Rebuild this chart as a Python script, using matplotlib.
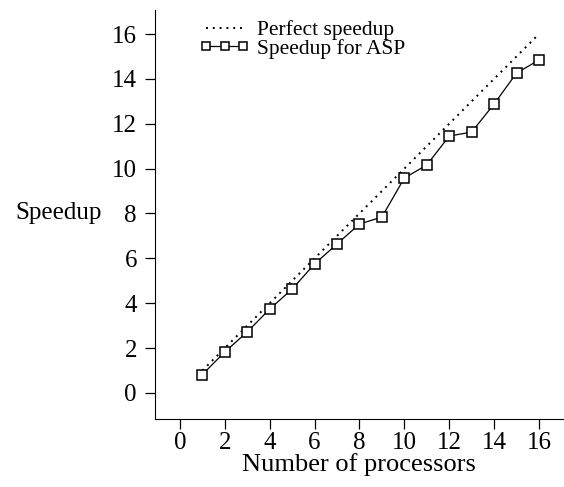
#speedup chart for ASP

#importing the libraries
import numpy as np
import matplotlib
matplotlib.use('Agg')
import matplotlib.pyplot as plt

#the data
processors = [1, 2, 3, 4, 5, 6, 7, 8, 9, 10, 11, 12, 13, 14, 15, 16]
perfect = [1, 2, 3, 4, 5, 6, 7, 8, 9, 10, 11, 12, 13, 14, 15, 16]
speedup_asp = [0.82, 1.83, 2.72, 3.74, 4.63, 5.75, 6.64, 7.53, 7.84, 9.58,
               10.16, 11.45, 11.63, 12.88, 14.26, 14.84]
ticks = [0, 2, 4, 6, 8, 10, 12, 14, 16]

plt.rcParams['font.family'] = ['Liberation Serif', 'DejaVu Serif']
plt.rcParams['font.size'] = 18

fig = plt.figure(figsize=(5.64, 4.87), dpi=100)
ax = fig.add_axes([155/564, (487-419)/487, (563-155)/564, (419-10)/487])

ax.plot(processors, perfect, color='black', linestyle=(0, (1, 2.5)), linewidth=1.4,
        label='Perfect speedup')
ax.plot(processors, speedup_asp, color='black', linewidth=0.9, marker='s',
        markersize=7, markerfacecolor='white', markeredgecolor='black',
        markeredgewidth=1.1, label='Speedup for ASP')

ax.set_xlim(-1.11, 17.07)
ax.set_ylim(-1.16, 17.07)
ax.set_xticks(ticks)
ax.set_yticks(ticks)
ax.spines['top'].set_visible(False)
ax.spines['right'].set_visible(False)
ax.tick_params(direction='out', length=7.5, width=0.9)
ax.tick_params(axis='x', pad=2)
ax.tick_params(axis='y', pad=5.5)
ax.set_xlabel('Number of processors', fontsize=19, labelpad=-1)
ax.set_ylabel('Speedup', rotation=0, ha='right', va='center')
ax.yaxis.set_label_coords(-0.13, (8+1.16)/(17.07+1.16))

ax.legend(loc='upper left', bbox_to_anchor=(0.11, 0.975), frameon=False,
          numpoints=3, fontsize=15.5, handlelength=2.3, handletextpad=0.35,
          labelspacing=-0.08, borderaxespad=0, borderpad=0, markerscale=0.8)

fig.savefig('out.png', dpi=100)
